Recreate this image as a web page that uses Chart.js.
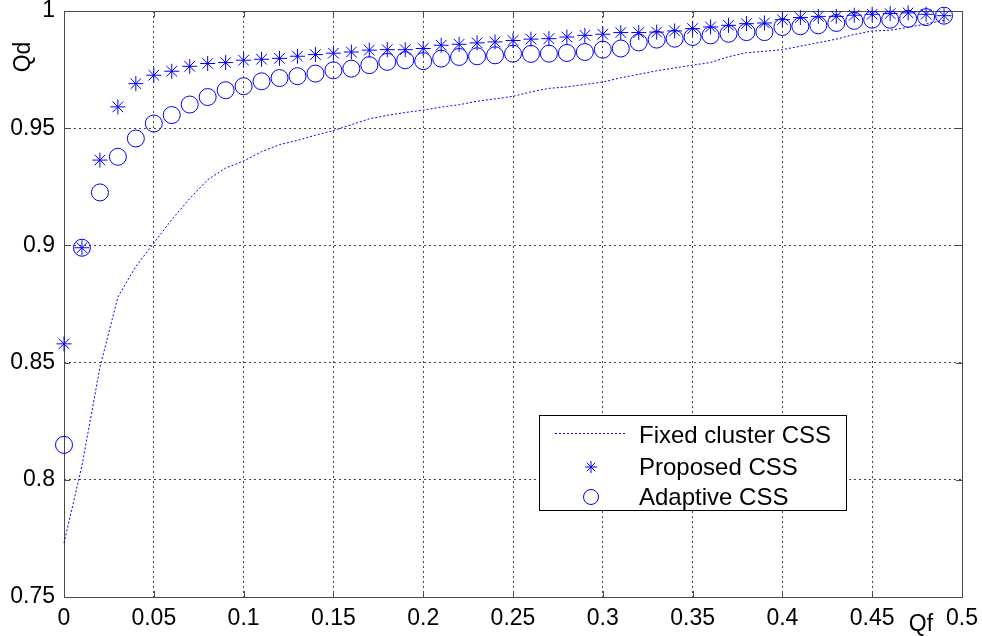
<!DOCTYPE html>
<html>
<head>
<meta charset="utf-8">
<script src="https://cdn.jsdelivr.net/npm/chart.js@4"></script>
<style>
  html, body { margin: 0; padding: 0; background: #ffffff; }
  #wrap { width: 982px; height: 636px; position: relative; }
</style>
</head>
<body>
<div id="wrap"><canvas id="c" width="982" height="636"></canvas></div>
<script>
// ---- data ----
const qf = [0, 0.01, 0.02, 0.03, 0.04, 0.05, 0.06, 0.07, 0.08, 0.09,
            0.10, 0.11, 0.12, 0.13, 0.14, 0.15, 0.16, 0.17, 0.18, 0.19,
            0.20, 0.21, 0.22, 0.23, 0.24, 0.25, 0.26, 0.27, 0.28, 0.29,
            0.30, 0.31, 0.32, 0.33, 0.34, 0.35, 0.36, 0.37, 0.38, 0.39,
            0.40, 0.41, 0.42, 0.43, 0.44, 0.45, 0.46, 0.47, 0.48, 0.49];

const fixedClusterCSS = [0.773, 0.806, 0.848, 0.878, 0.891, 0.901, 0.911, 0.920, 0.928, 0.933,
                         0.936, 0.940, 0.943, 0.9448, 0.947, 0.949, 0.9515, 0.954, 0.9555, 0.9567,
                         0.9577, 0.959, 0.960, 0.9615, 0.9625, 0.9636, 0.9655, 0.967, 0.9676, 0.9687,
                         0.9697, 0.9715, 0.973, 0.9745, 0.9757, 0.9769, 0.978, 0.9805, 0.9822, 0.9828,
                         0.9835, 0.985, 0.9865, 0.988, 0.990, 0.9915, 0.9918, 0.993, 0.9945, 0.996];

const proposedCSS = [0.858, 0.899, 0.9364, 0.9591, 0.969, 0.9726, 0.9743, 0.9764, 0.9776, 0.978,
                     0.979, 0.9794, 0.9798, 0.9807, 0.9814, 0.982, 0.9825, 0.9833, 0.9835, 0.9835,
                     0.984, 0.9854, 0.9858, 0.9864, 0.9868, 0.9874, 0.988, 0.9882, 0.9889, 0.9896,
                     0.9901, 0.9908, 0.9908, 0.991, 0.9915, 0.9925, 0.9932, 0.9939, 0.9946, 0.9949,
                     0.9963, 0.9972, 0.9977, 0.9977, 0.9982, 0.9986, 0.9989, 0.9992, 0.9986, 0.998];

const adaptiveCSS = [0.8149, 0.899, 0.9226, 0.9378, 0.9456, 0.952, 0.9556, 0.9601, 0.9633, 0.9662,
                     0.9679, 0.970, 0.9714, 0.9722, 0.9733, 0.9747, 0.9754, 0.9769, 0.9783, 0.979,
                     0.9786, 0.9797, 0.9804, 0.9807, 0.9811, 0.9818, 0.9817, 0.9818, 0.9821, 0.9825,
                     0.9835, 0.984, 0.9866, 0.9878, 0.9882, 0.9889, 0.9896, 0.9903, 0.991, 0.991,
                     0.9932, 0.9935, 0.9939, 0.9949, 0.9958, 0.9963, 0.9963, 0.9967, 0.9974, 0.998];

const seriesLabels = ['Fixed cluster CSS', 'Proposed CSS', 'Adaptive CSS'];
const xTickValues = [0, 0.05, 0.1, 0.15, 0.2, 0.25, 0.3, 0.35, 0.4, 0.45, 0.5];
const xTickLabels = ['0', '0.05', '0.1', '0.15', '0.2', '0.25', '0.3', '0.35', '0.4', '0.45', '0.5'];
const yTickValues = [0.75, 0.8, 0.85, 0.9, 0.95, 1];
const yTickLabels = ['0.75', '0.8', '0.85', '0.9', '0.95', '1'];
const xAxisTitle = 'Qf';
const yAxisTitle = 'Qd';

// ---- build ----
const toPoints = (ys) => ys.map((y, i) => ({ x: qf[i], y: y }));
const BLUE = '#0000ff';
const FONT = '"Liberation Sans", Arial, Helvetica, sans-serif';

function labelFor(values, labels, v) {
  for (let i = 0; i < values.length; i++) {
    if (Math.abs(values[i] - v) < 1e-6) return labels[i];
  }
  return '';
}

function drawMarker(ctx, style, x, y, r) {
  ctx.save();
  ctx.strokeStyle = BLUE;
  ctx.lineWidth = 1;
  ctx.beginPath();
  if (style === 'star') {
    const d = r * Math.SQRT1_2;
    ctx.moveTo(x - r, y); ctx.lineTo(x + r, y);
    ctx.moveTo(x, y - r); ctx.lineTo(x, y + r);
    ctx.moveTo(x - d, y - d); ctx.lineTo(x + d, y + d);
    ctx.moveTo(x - d, y + d); ctx.lineTo(x + d, y - d);
  } else {
    ctx.arc(x, y, r, 0, Math.PI * 2);
  }
  ctx.stroke();
  ctx.restore();
}

const framePlugin = {
  id: 'frame',
  beforeDatasetsDraw(chart) {
    const ctx = chart.ctx;
    const a = chart.chartArea;
    const xs = chart.scales.x, ys = chart.scales.y;
    ctx.save();
    ctx.strokeStyle = '#4a4a4a';
    ctx.lineWidth = 1;
    ctx.setLineDash([]);
    ctx.strokeRect(Math.round(a.left) + 0.5, Math.round(a.top) + 0.5,
                   Math.round(a.right - a.left), Math.round(a.bottom - a.top));
    ctx.beginPath();
    xTickValues.forEach(v => {
      const px = Math.round(xs.getPixelForValue(v)) + 0.5;
      ctx.moveTo(px, a.bottom); ctx.lineTo(px, a.bottom - 6);
      ctx.moveTo(px, a.top); ctx.lineTo(px, a.top + 6);
    });
    yTickValues.forEach(v => {
      const py = Math.round(ys.getPixelForValue(v)) + 0.5;
      ctx.moveTo(a.left, py); ctx.lineTo(a.left + 6, py);
      ctx.moveTo(a.right, py); ctx.lineTo(a.right - 6, py);
    });
    ctx.stroke();
    ctx.restore();
  },
  afterDraw(chart) {
    const ctx = chart.ctx;
    ctx.save();
    // axis titles
    ctx.fillStyle = '#000';
    ctx.font = '23px ' + FONT;
    ctx.textAlign = 'center';
    ctx.textBaseline = 'middle';
    ctx.fillText(xAxisTitle, 921, 625);
    ctx.translate(24, 57);
    ctx.rotate(-Math.PI / 2);
    ctx.fillText(yAxisTitle, 0, 0);
    ctx.restore();

    // legend
    ctx.save();
    const L = 539, T = 415, R = 846, B = 510;
    ctx.fillStyle = '#ffffff';
    ctx.fillRect(L, T, R - L, B - T);
    ctx.strokeStyle = '#000';
    ctx.lineWidth = 1;
    ctx.strokeRect(L + 0.5, T + 0.5, R - L, B - T);
    const rowsY = [436, 468, 498];
    ctx.strokeStyle = BLUE;
    ctx.setLineDash([2, 2]);
    ctx.beginPath();
    ctx.moveTo(555, 433.5); ctx.lineTo(627, 433.5);
    ctx.stroke();
    ctx.setLineDash([]);
    drawMarker(ctx, 'star', 591, 467, 6);
    drawMarker(ctx, 'circle', 591, 497, 7.5);
    ctx.fillStyle = '#000';
    ctx.font = '24px ' + FONT;
    ctx.textAlign = 'left';
    ctx.textBaseline = 'middle';
    seriesLabels.forEach((t, i) => ctx.fillText(t, 639, rowsY[i]));
    ctx.restore();
  }
};

const bgPlugin = {
  id: 'bg',
  beforeDraw(chart) {
    const ctx = chart.ctx;
    ctx.save();
    ctx.fillStyle = '#ffffff';
    ctx.fillRect(0, 0, chart.width, chart.height);
    ctx.restore();
  }
};

new Chart(document.getElementById('c'), {
  type: 'scatter',
  data: {
    datasets: [
      {
        label: seriesLabels[0],
        data: toPoints(fixedClusterCSS),
        showLine: true,
        borderColor: BLUE,
        borderWidth: 1,
        borderDash: [2, 2],
        pointRadius: 0,
        tension: 0,
        fill: false,
        clip: false
      },
      {
        label: seriesLabels[1],
        data: toPoints(proposedCSS),
        showLine: false,
        pointStyle: 'star',
        pointRadius: 7.5,
        pointBorderColor: BLUE,
        pointBackgroundColor: BLUE,
        pointBorderWidth: 1,
        clip: false
      },
      {
        label: seriesLabels[2],
        data: toPoints(adaptiveCSS),
        showLine: false,
        pointStyle: 'circle',
        pointRadius: 8.5,
        pointBorderColor: BLUE,
        pointBackgroundColor: 'rgba(0,0,0,0)',
        pointBorderWidth: 1,
        clip: false
      }
    ]
  },
  options: {
    responsive: false,
    animation: false,
    devicePixelRatio: 1,
    layout: { padding: { left: 0, top: 11, right: 20, bottom: 0 } },
    plugins: {
      legend: { display: false },
      tooltip: { enabled: false }
    },
    scales: {
      x: {
        type: 'linear',
        min: 0, max: 0.5,
        afterBuildTicks(scale) { scale.ticks = xTickValues.map(v => ({ value: v })); },
        afterFit(scale) { scale.height = 39; scale.paddingLeft = 0; scale.paddingRight = 0; },
        ticks: {
          color: '#000',
          padding: 8,
          maxRotation: 0,
          autoSkip: false,
          font: { family: FONT, size: 23 },
          callback: (v) => labelFor(xTickValues, xTickLabels, v)
        },
        grid: {
          color: '#444',
          lineWidth: 1,
          drawTicks: false
        },
        border: { display: false, dash: [2, 3] }
      },
      y: {
        type: 'linear',
        min: 0.75, max: 1,
        afterBuildTicks(scale) { scale.ticks = yTickValues.map(v => ({ value: v })); },
        afterFit(scale) { scale.width = 64; scale.paddingTop = 0; scale.paddingBottom = 0; },
        ticks: {
          color: '#000',
          padding: 9,
          autoSkip: false,
          font: { family: FONT, size: 23 },
          callback: (v) => labelFor(yTickValues, yTickLabels, v)
        },
        grid: {
          color: '#444',
          lineWidth: 1,
          drawTicks: false
        },
        border: { display: false, dash: [2, 3] }
      }
    }
  },
  plugins: [bgPlugin, framePlugin]
});
</script>
</body>
</html>
